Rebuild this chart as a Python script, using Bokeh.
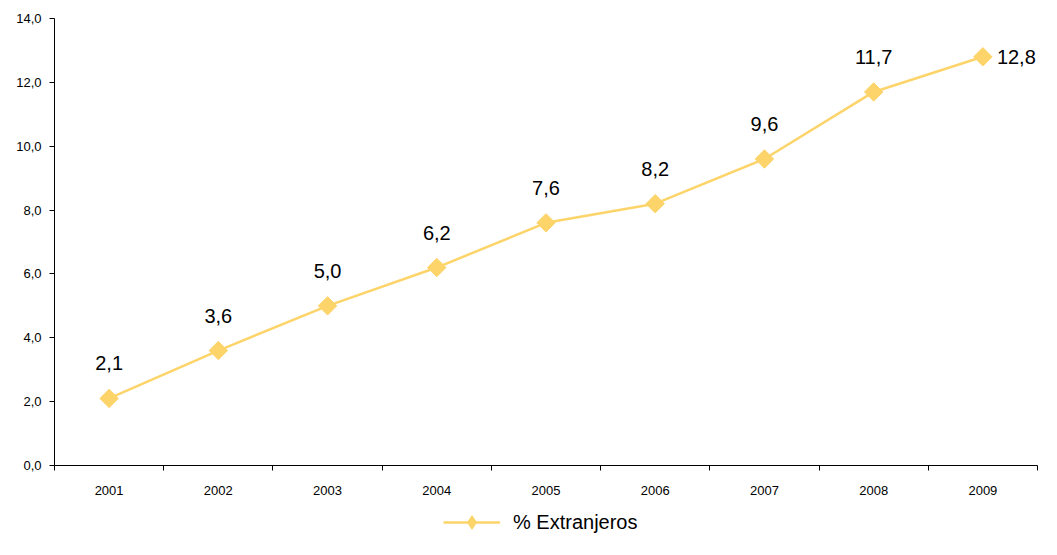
from bokeh.plotting import figure
from bokeh.layouts import column
from bokeh.models import (ColumnDataSource, FixedTicker, LabelSet, Legend, LegendItem, Range1d)
from bokeh.core.properties import value
from bokeh.embed import file_html
from bokeh.resources import INLINE
import math

years = ["2001", "2002", "2003", "2004", "2005", "2006", "2007", "2008", "2009"]
pct_extranjeros = [2.1, 3.6, 5.0, 6.2, 7.6, 8.2, 9.6, 11.7, 12.8]
y_ticks = [0, 2, 4, 6, 8, 10, 12, 14]
series_name = "% Extranjeros"

COLOR = "#FCD46A"
FONT = "Liberation Sans"

xs = list(range(1, len(years) + 1))
labels = [f"{v:.1f}".replace(".", ",") for v in pct_extranjeros]

p = figure(width=1041, height=503, output_backend="svg", toolbar_location=None,
           x_range=Range1d(0.5, len(years) + 0.5), y_range=Range1d(0, 14),
           min_border_left=54, min_border_right=4, min_border_top=18, min_border_bottom=38)
p.outline_line_color = None
p.grid.visible = False
p.background_fill_color = "white"
p.border_fill_color = "white"

src = ColumnDataSource(dict(x=xs, y=pct_extranjeros, label=labels))
line_r = p.line("x", "y", source=src, line_color=COLOR, line_width=2.5)
mark_r = p.scatter("x", "y", source=src, marker="square", size=13, angle=math.pi / 4,
                   fill_color=COLOR, line_color=COLOR)

# data labels
n = len(xs)
src_top = ColumnDataSource(dict(x=xs[:n - 1], y=pct_extranjeros[:n - 1], label=labels[:n - 1]))
src_last = ColumnDataSource(dict(x=xs[n - 1:], y=pct_extranjeros[n - 1:], label=labels[n - 1:]))
p.add_layout(LabelSet(x="x", y="y", text="label", source=src_top, y_offset=35,
                      text_align="center", text_baseline="middle",
                      text_font=value(FONT), text_font_size="20px", text_color="#000000"))
p.add_layout(LabelSet(x="x", y="y", text="label", source=src_last, x_offset=14,
                      text_align="left", text_baseline="middle",
                      text_font=value(FONT), text_font_size="20px", text_color="#000000"))

# x axis
xa = p.xaxis[0]
xa.ticker = FixedTicker(ticks=xs, minor_ticks=[i + 0.5 for i in range(0, n + 1)])
xa.major_label_overrides = {x: y for x, y in zip(xs, years)}
xa.major_tick_out = 0
xa.major_tick_in = 0
xa.minor_tick_out = 5
xa.minor_tick_in = 0
xa.minor_tick_line_color = "#000000"
xa.axis_line_color = "#000000"
xa.major_label_standoff = 15
xa.major_label_text_font = FONT
xa.major_label_text_font_size = "13px"
xa.major_label_text_color = "#000000"

# y axis
ya = p.yaxis[0]
ya.ticker = FixedTicker(ticks=y_ticks)
ya.major_label_overrides = {t: f"{t:.1f}".replace(".", ",") for t in y_ticks}
ya.major_tick_out = 5
ya.major_tick_in = 0
ya.minor_tick_out = 0
ya.minor_tick_in = 0
ya.axis_line_color = "#000000"
ya.major_tick_line_color = "#000000"
ya.major_label_standoff = 8
ya.major_label_text_font = FONT
ya.major_label_text_font_size = "13px"
ya.major_label_text_color = "#000000"

# legend strip below the chart (same series, ranges chosen so only the legend shows)
lg = figure(width=1041, height=36, output_backend="svg", toolbar_location=None,
            x_range=Range1d(-3, -2), y_range=Range1d(-3, -2),
            min_border_left=0, min_border_right=0, min_border_top=0, min_border_bottom=0)
lg.axis.visible = False
lg.grid.visible = False
lg.outline_line_color = None
lg_line = lg.line("x", "y", source=src, line_color=COLOR, line_width=2.5)
lg_mark = lg.scatter("x", "y", source=src, marker="diamond", size=13,
                     fill_color=COLOR, line_color=COLOR)
legend = Legend(items=[LegendItem(label=series_name, renderers=[lg_line, lg_mark])],
                location=(389, 0), orientation="horizontal",
                glyph_width=57, glyph_height=34, label_standoff=13,
                label_text_font=FONT, label_text_font_size="20px", label_text_color="#000000",
                border_line_color=None, background_fill_alpha=0,
                padding=0, margin=0, spacing=0)
lg.add_layout(legend, "center")

layout = column(p, lg, spacing=0)
open("out.html", "w").write(file_html(layout, INLINE))
